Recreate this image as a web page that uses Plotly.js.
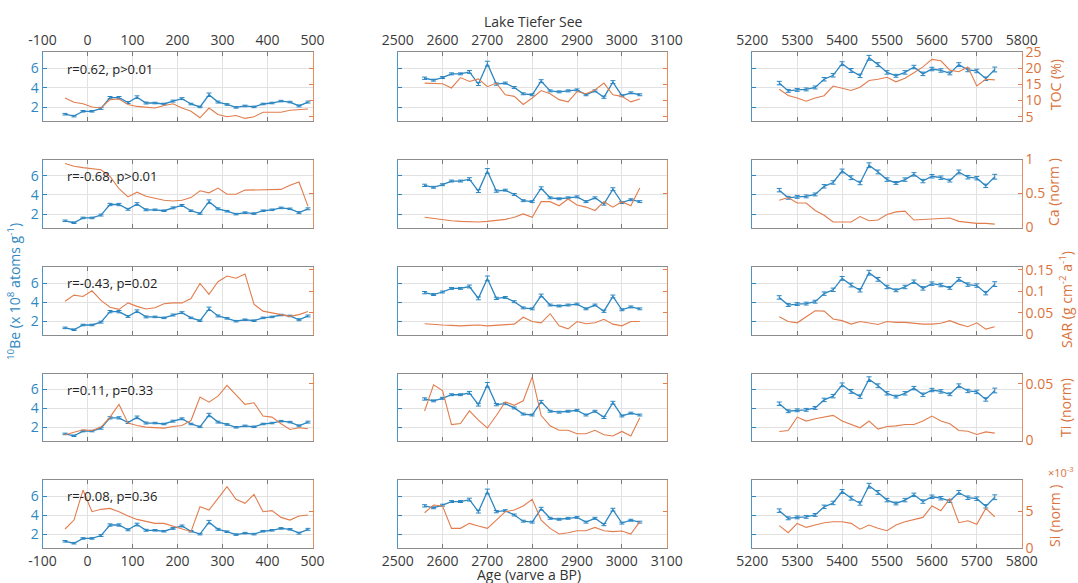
<!DOCTYPE html>
<html><head><meta charset="utf-8">
<script src="https://cdn.plot.ly/plotly-3.0.1.min.js"></script>
<style>html,body{margin:0;padding:0;background:#fff;}#chart{width:1078px;height:583px;}</style>
</head><body><div id="chart"></div>
<script>
// ---------- DATA ----------
const ageA = [-50,-30,-10,10,30,50,70,90,110,130,150,170,190,210,230,250,270,290,310,330,350,370,390,410,430,450,470,490];
const ageB = [2560,2580,2600,2620,2640,2660,2680,2700,2720,2740,2760,2780,2800,2820,2840,2860,2880,2900,2920,2940,2960,2980,3000,3020,3040];
const ageC = [5260,5280,5300,5320,5340,5360,5380,5400,5420,5440,5460,5480,5500,5520,5540,5560,5580,5600,5620,5640,5660,5680,5700,5720,5740];

const beA = [1.3,1.1,1.6,1.6,1.9,3.0,3.0,2.5,3.05,2.45,2.45,2.35,2.65,2.9,2.35,2.05,3.3,2.55,2.3,2.0,2.15,2.05,2.35,2.45,2.65,2.55,2.15,2.55];
const beB = [5.0,4.8,5.07,5.45,5.45,5.65,4.4,6.5,4.4,4.5,4.05,3.4,3.3,4.7,3.7,3.6,3.7,3.8,3.3,3.7,3.05,4.6,3.2,3.5,3.3];
const beC = [4.5,3.7,3.8,3.85,4.05,4.9,5.3,6.5,5.8,5.25,7.1,6.4,5.6,5.25,5.6,6.15,5.45,5.95,5.8,5.5,6.4,5.85,5.75,4.95,5.9];

const errA = [0.08,0.08,0.08,0.08,0.1,0.12,0.12,0.1,0.14,0.1,0.08,0.08,0.1,0.1,0.08,0.08,0.18,0.1,0.08,0.08,0.08,0.08,0.08,0.08,0.08,0.08,0.1,0.1];
const errB = [0.12,0.1,0.1,0.1,0.1,0.15,0.15,0.25,0.12,0.1,0.1,0.1,0.1,0.15,0.1,0.1,0.1,0.1,0.1,0.1,0.12,0.15,0.1,0.1,0.1];
const errC = [0.18,0.15,0.15,0.15,0.15,0.18,0.18,0.2,0.2,0.18,0.25,0.2,0.18,0.15,0.18,0.18,0.18,0.18,0.18,0.15,0.2,0.18,0.18,0.18,0.25];

const tocA = [10.8,9.5,9.0,8.0,7.7,10.3,10.5,8.8,8.2,8.0,7.7,8.5,9.0,7.7,6.7,4.7,7.7,5.7,5.0,5.4,4.5,5.0,6.4,6.4,6.4,7.0,7.2,7.4];
const tocB = [15.4,15.3,15.2,13.9,17.1,15.9,16.7,14.3,15.4,11.8,11.3,8.8,10.8,13.1,12.1,10.3,9.6,12.8,12.1,13.3,15.4,11.8,11.3,9.6,10.5];
const tocC = [13.5,11.6,10.8,9.8,10.8,11.5,14.5,13.8,13.1,14.1,16.2,16.6,17.2,15.8,16.9,18.6,20.4,22.7,22.3,19.4,18.9,20.4,14.5,16.6,16.4];

const caA = [0.94,0.90,0.88,0.87,0.85,0.75,0.57,0.45,0.52,0.46,0.43,0.40,0.39,0.40,0.44,0.54,0.51,0.58,0.49,0.49,0.55,0.55,0.55,0.55,0.56,0.62,0.67,0.31];
const caB = [0.15,0.13,0.12,0.10,0.09,0.08,0.08,0.09,0.10,0.12,0.15,0.20,0.15,0.38,0.38,0.32,0.42,0.33,0.30,0.25,0.38,0.30,0.38,0.32,0.58];
const caC = [0.40,0.44,0.36,0.36,0.25,0.18,0.08,0.08,0.08,0.16,0.10,0.11,0.19,0.23,0.24,0.11,0.12,0.13,0.13,0.14,0.09,0.07,0.06,0.06,0.05];

const sarA = [0.077,0.091,0.088,0.101,0.079,0.063,0.058,0.073,0.065,0.059,0.062,0.071,0.073,0.073,0.083,0.118,0.093,0.122,0.135,0.130,0.140,0.070,0.054,0.050,0.046,0.042,0.046,0.053];
const sarB = [0.025,0.023,0.022,0.021,0.020,0.021,0.022,0.020,0.021,0.023,0.024,0.040,0.030,0.027,0.048,0.020,0.013,0.030,0.025,0.027,0.035,0.024,0.020,0.030,0.030];
const sarC = [0.041,0.030,0.027,0.041,0.055,0.054,0.036,0.032,0.024,0.030,0.026,0.023,0.030,0.028,0.028,0.026,0.024,0.024,0.026,0.032,0.024,0.018,0.027,0.0125,0.018];

const tiA = [0.005,0.0071,0.0094,0.0088,0.0118,0.0206,0.0318,0.0153,0.0132,0.0118,0.0112,0.0109,0.0124,0.0132,0.0176,0.0382,0.0338,0.0391,0.0485,0.0397,0.0318,0.0332,0.0215,0.0206,0.0147,0.0097,0.0112,0.0103];
const tiB = [0.026,0.049,0.044,0.014,0.015,0.026,0.018,0.011,0.022,0.034,0.031,0.035,0.056,0.022,0.013,0.009,0.009,0.006,0.006,0.009,0.005,0.004,0.008,0.004,0.020];
const tiC = [0.0079,0.0088,0.0206,0.0171,0.0191,0.0206,0.0221,0.0171,0.0141,0.0112,0.0171,0.0100,0.0124,0.0129,0.0141,0.0141,0.0171,0.0215,0.0171,0.0147,0.0088,0.0082,0.0053,0.0076,0.0065];

// Si in units of 1e-3
const siA = [2.57,3.78,7.84,4.91,5.23,5.36,4.91,4.32,3.87,3.65,3.33,3.33,2.97,2.66,2.21,5.59,5.14,6.71,8.29,6.58,6.04,7.25,4.91,5.05,4.14,3.78,4.32,4.46];
const siB = [4.77,5.81,5.68,2.66,2.66,3.33,2.97,2.66,3.78,4.91,5.14,5.68,6.58,3.78,2.66,1.89,2.07,2.34,2.34,2.79,2.34,2.21,2.30,1.89,3.56];
const siC = [3.02,2.07,3.33,2.79,3.11,3.42,3.56,3.56,3.33,2.55,3.11,2.66,2.34,3.11,3.56,3.87,4.14,5.68,5.05,6.71,3.42,3.69,3.20,5.36,4.23];

const rLabels = ["r=0.62, p>0.01","r=-0.68, p>0.01","r=-0.43, p=0.02","r=0.11, p=0.33","r=-0.08, p=0.36"];
const proxyTitles = ["TOC (%)","Ca (norm )","SAR (g cm<sup>-2</sup> a<sup>-1</sup>)","Ti (norm)","Si (norm )"];

const xTickValsA = [-100,0,100,200,300,400,500];
const xTickValsB = [2500,2600,2700,2800,2900,3000,3100];
const xTickValsC = [5200,5300,5400,5500,5600,5700,5800];
const xTickTextA = ["-100","0","100","200","300","400","500"];
const xTickTextB = ["2500","2600","2700","2800","2900","3000","3100"];
const xTickTextC = ["5200","5300","5400","5500","5600","5700","5800"];

const beTickVals = [2,4,6];
const beTickText = ["2","4","6"];
const rTickVals = [[5,10,15,20,25],[0,0.5,1],[0,0.05,0.1,0.15],[0,0.05],[0,5]];
const rTickText = [["5","10","15","20","25"],["0","0.5","1"],["0","0.05","0.1","0.15"],["0","0.05"],["0","5"]];

// ---------- BUILD ----------
const ages = [ageA, ageB, ageC];
const bes = [beA, beB, beC];
const errs = [errA, errB, errC];
const proxies = [[tocA,tocB,tocC],[caA,caB,caC],[sarA,sarB,sarC],[tiA,tiB,tiC],[siA,siB,siC]];
const xTV = [xTickValsA, xTickValsB, xTickValsC];
const xTT = [xTickTextA, xTickTextB, xTickTextC];
const xRanges = [[-100,500],[2500,3100],[5200,5800]];
const rRanges = [[3.7,25],[0,1],[0,0.156],[0,0.059],[0,9.2]];

const W = 1078, H = 583;
const colX = [[42.5,312.5],[397.7,666.7],[752.3,1021.7]];
const rowY = [[52,121],[159.5,227.5],[267,334.5],[373.5,440.5],[480,548]];
const BLUE = '#2b86c2', BLUE_T = '#2f87c2', ORANGE = '#e27d4d', ORANGE_T = '#d9733d';
const FONT = 'Open Sans, sans-serif';
const GRID = '#e2e2e2';

const traces = [];
const layout = {
  width: W, height: H, margin: {l:0,r:0,t:0,b:0},
  paper_bgcolor: '#fff', plot_bgcolor: '#fff',
  showlegend: false, font: {family: FONT},
  annotations: []
};

for (let r = 0; r < 5; r++) {
  for (let c = 0; c < 3; c++) {
    const k = r*3 + c + 1;
    const kr = 15 + k;
    const yrn = 'y' + kr;
    traces.push({
      x: ages[c], y: bes[c], type: 'scatter', mode: 'lines',
      line: {color: BLUE, width: 1.3},
      error_y: {type: 'data', array: errs[c], visible: true, color: BLUE, thickness: 1, width: 2.5},
      xaxis: 'x' + k, yaxis: 'y' + k, hoverinfo: 'skip'
    });
    traces.push({
      x: ages[c], y: proxies[r][c], type: 'scatter', mode: 'lines',
      line: {color: ORANGE, width: 1.1},
      xaxis: 'x' + k, yaxis: yrn, hoverinfo: 'skip'
    });
    layout['xaxis' + (k === 1 ? '' : k)] = {
      domain: [colX[c][0]/W, colX[c][1]/W],
      range: xRanges[c], tickmode: 'array', tickvals: xTV[c], ticktext: xTT[c],
      anchor: 'y' + k, side: r === 0 ? 'top' : 'bottom',
      showticklabels: (r === 0 || r === 4),
      ticks: 'inside', ticklen: 4, tickcolor: '#7a7a7a',
      showline: true, linecolor: '#8c8c8c', linewidth: 1, mirror: 'ticks',
      showgrid: true, gridcolor: GRID, gridwidth: 1, zeroline: false,
      tickfont: {family: FONT, size: 14, color: '#3a3a3a'}, fixedrange: true
    };
    layout['yaxis' + (k === 1 ? '' : k)] = {
      domain: [1 - rowY[r][1]/H, 1 - rowY[r][0]/H],
      range: [0.6, 7.7], tickmode: 'array', tickvals: beTickVals, ticktext: beTickText,
      anchor: 'x' + k, side: 'left', showticklabels: c === 0,
      ticks: 'inside', ticklen: 4, tickcolor: BLUE,
      showline: true, linecolor: '#4a94c8', linewidth: 1,
      showgrid: true, gridcolor: GRID, gridwidth: 1, zeroline: false,
      tickfont: {family: FONT, size: 14, color: BLUE_T}, fixedrange: true
    };
    layout['yaxis' + kr] = {
      overlaying: 'y' + k, anchor: 'x' + k, side: 'right',
      range: rRanges[r], tickmode: 'array', tickvals: rTickVals[r], ticktext: rTickText[r],
      showticklabels: c === 2,
      ticks: 'inside', ticklen: 4, tickcolor: ORANGE,
      showline: true, linecolor: '#e58c60', linewidth: 1,
      showgrid: false, zeroline: false,
      tickfont: {family: FONT, size: 14, color: ORANGE_T}, fixedrange: true
    };
  }
  const k1 = r*3 + 1;
  layout.annotations.push({
    text: rLabels[r], xref: 'x' + k1, yref: 'y' + k1, x: -50, y: 6.0,
    xanchor: 'left', yanchor: 'middle', showarrow: false,
    font: {family: FONT, size: 13, color: '#222'}
  });
}

const rtPos = [[1055,85],[1054,192],[1066,300],[1065,408],[1054,516]];
for (let r = 0; r < 5; r++) {
  layout.annotations.push({
    text: proxyTitles[r], xref: 'paper', yref: 'paper',
    x: rtPos[r][0]/W, y: 1 - rtPos[r][1]/H, xanchor: 'center', yanchor: 'middle',
    textangle: -90, showarrow: false,
    font: {family: FONT, size: 14, color: ORANGE_T}
  });
}
layout.annotations.push({
  text: '×10<sup>-3</sup>', xref: 'paper', yref: 'paper',
  x: 1046/W, y: 1 - 472/H, xanchor: 'left', yanchor: 'middle', showarrow: false,
  font: {family: FONT, size: 11, color: ORANGE_T}
});
layout.annotations.push({
  text: '<sup>10</sup>Be (x 10<sup>8</sup> atoms g<sup>-1</sup>)', xref: 'paper', yref: 'paper',
  x: 14/W, y: 1 - 292/H, xanchor: 'center', yanchor: 'middle', textangle: -90, showarrow: false,
  font: {family: FONT, size: 14, color: BLUE_T}
});
layout.annotations.push({
  text: 'Lake Tiefer See', xref: 'paper', yref: 'paper',
  x: 533/W, y: 1 - 22/H, xanchor: 'center', yanchor: 'middle', showarrow: false,
  font: {family: FONT, size: 14, color: '#333'}
});
layout.annotations.push({
  text: 'Age (varve a BP)', xref: 'paper', yref: 'paper',
  x: 529/W, y: 1 - 574/H, xanchor: 'center', yanchor: 'middle', showarrow: false,
  font: {family: FONT, size: 14, color: '#333'}
});

Plotly.newPlot('chart', traces, layout, {staticPlot: true, displayModeBar: false});
</script>
</body></html>
